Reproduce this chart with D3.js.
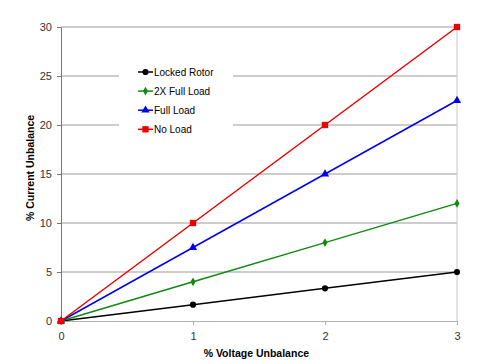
<!DOCTYPE html>
<html lang="en">
  <head>
    <meta charset="UTF-8" />
    <title>Current vs Voltage Unbalance</title>
    <style>
      body { margin: 0; background: #fff; font-family: "Liberation Sans", Arial, sans-serif; }
      .tick text { font-size: 11px; fill: #333; }
      .axis-title { font-size: 10.5px; font-weight: bold; fill: #000; }
      .legend text { font-size: 10px; fill: #000; }
    </style>
  </head>
  <body>
    <div id="chart"></div>
    <script src="https://d3js.org/d3.v7.min.js"></script>
    <script>
      // data
      var voltage = [0, 1, 2, 3];
      var lockedRotor = [0, 1.67, 3.33, 5];
      var twoXFullLoad = [0, 4, 8, 12];
      var fullLoad = [0, 7.5, 15, 22.5];
      var noLoad = [0, 10, 20, 30];
      var yTicks = [0, 5, 10, 15, 20, 25, 30];

      var series = [
        { name: "Locked Rotor", values: lockedRotor, color: "#000000", shape: d3.symbolCircle, size: 30 },
        { name: "2X Full Load", values: twoXFullLoad, color: "#118811", shape: d3.symbolDiamond, size: 22 },
        { name: "Full Load", values: fullLoad, color: "#0000ee", shape: d3.symbolTriangle, size: 30 },
        { name: "No Load", values: noLoad, color: "#ee0000", shape: d3.symbolSquare, size: 40 }
      ];

      var margin = { top: 27, right: 25, bottom: 43, left: 61 },
        width = 482 - margin.left - margin.right,
        height = 364 - margin.top - margin.bottom;

      var svg = d3
        .select("#chart")
        .append("svg")
        .attr("width", 482)
        .attr("height", 364)
        .append("g")
        .attr("transform", "translate(" + margin.left + "," + margin.top + ")");

      var x = d3.scaleLinear().domain([0, 3]).range([0, width]);
      var y = d3.scaleLinear().domain([0, 30]).range([height, 0]);

      // gridlines
      svg
        .append("g")
        .selectAll("line")
        .data(yTicks.slice(1))
        .enter()
        .append("line")
        .attr("x1", 0)
        .attr("x2", width)
        .attr("y1", (d) => y(d))
        .attr("y2", (d) => y(d))
        .attr("stroke", "#9a9a9a")
        .attr("stroke-width", 1);

      // right border of plot area
      svg
        .append("line")
        .attr("x1", width)
        .attr("x2", width)
        .attr("y1", 0)
        .attr("y2", height)
        .attr("stroke", "#c8c8c8");

      // x axis
      var xAxis = svg
        .append("g")
        .attr("transform", "translate(0," + height + ")")
        .call(d3.axisBottom(x).tickValues(voltage).tickFormat(d3.format("d")).tickSize(4).tickPadding(7));
      xAxis.select(".domain").attr("stroke", "#b0b0b0");
      xAxis.selectAll(".tick line").attr("stroke", "#b0b0b0");

      // y axis
      var yAxis = svg
        .append("g")
        .call(d3.axisLeft(y).tickValues(yTicks).tickSize(4).tickPadding(5));
      yAxis.select(".domain").attr("stroke", "#777");
      yAxis.selectAll(".tick line").attr("stroke", "#777");
      svg.selectAll(".tick text").attr("font-family", "Liberation Sans, Arial, sans-serif");

      // axis titles
      svg
        .append("text")
        .attr("class", "axis-title")
        .attr("x", x(1.48))
        .attr("y", height + 36)
        .attr("text-anchor", "middle")
        .text("% Voltage Unbalance");

      svg
        .append("text")
        .attr("class", "axis-title")
        .attr("transform", "rotate(-90)")
        .attr("x", -(height / 2) + 6)
        .attr("y", -27)
        .attr("text-anchor", "middle")
        .text("% Current Unbalance");

      // lines and markers
      var line = d3
        .line()
        .x((d, i) => x(voltage[i]))
        .y((d) => y(d));

      series.forEach((s) => {
        svg
          .append("path")
          .datum(s.values)
          .attr("fill", "none")
          .attr("stroke", s.color)
          .attr("stroke-width", 1.5)
          .attr("d", line);

        svg
          .selectAll(null)
          .data(s.values)
          .enter()
          .append("path")
          .attr("transform", (d, i) => "translate(" + x(voltage[i]) + "," + y(d) + ")")
          .attr("d", d3.symbol().type(s.shape).size(s.size))
          .attr("fill", s.color);
      });

      // legend
      var legend = svg
        .append("g")
        .attr("class", "legend")
        .attr("transform", "translate(58,33)");

      legend
        .append("rect")
        .attr("x", 0)
        .attr("y", 0)
        .attr("width", 114)
        .attr("height", 82)
        .attr("fill", "#fff");

      var item = legend
        .selectAll(".item")
        .data(series)
        .enter()
        .append("g")
        .attr("transform", (d, i) => "translate(0," + (12 + i * 19.1) + ")");

      item
        .append("line")
        .attr("x1", 19)
        .attr("x2", 34)
        .attr("stroke", (d) => d.color)
        .attr("stroke-width", 1.5);

      item
        .append("path")
        .attr("transform", "translate(26.5,0)")
        .attr("d", (d) => d3.symbol().type(d.shape).size(d.size)())
        .attr("fill", (d) => d.color);

      item
        .append("text")
        .attr("x", 35)
        .attr("dy", "0.35em")
        .text((d) => d.name);
    </script>
  </body>
</html>
